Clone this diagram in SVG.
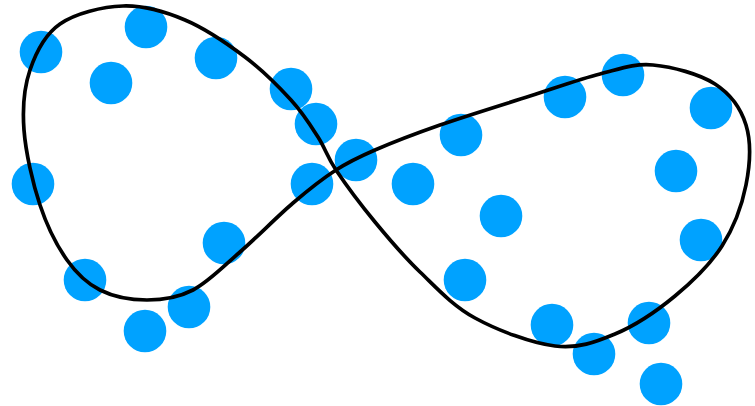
<svg xmlns="http://www.w3.org/2000/svg" width="755" height="406" viewBox="0 0 755 406">
<style>
.dot{fill:#00A2FF}
.curve{fill:none;stroke:#000;stroke-width:3.7;stroke-linejoin:round}
</style>
<rect width="755" height="406" fill="#fff"/>
<g id="dots">
<circle class="dot" cx="41" cy="52" r="21.3"/>
<circle class="dot" cx="146" cy="27" r="21.3"/>
<circle class="dot" cx="216" cy="58" r="21.3"/>
<circle class="dot" cx="111" cy="83" r="21.3"/>
<circle class="dot" cx="291" cy="89" r="21.3"/>
<circle class="dot" cx="316" cy="124" r="21.3"/>
<circle class="dot" cx="356" cy="160" r="21.3"/>
<circle class="dot" cx="312" cy="184" r="21.3"/>
<circle class="dot" cx="33" cy="184" r="21.3"/>
<circle class="dot" cx="85" cy="280" r="21.3"/>
<circle class="dot" cx="224" cy="243" r="21.3"/>
<circle class="dot" cx="189" cy="307" r="21.3"/>
<circle class="dot" cx="145" cy="331" r="21.3"/>
<circle class="dot" cx="461" cy="135" r="21.3"/>
<circle class="dot" cx="565" cy="97" r="21.3"/>
<circle class="dot" cx="623" cy="75" r="21.3"/>
<circle class="dot" cx="711" cy="108" r="21.3"/>
<circle class="dot" cx="676" cy="171" r="21.3"/>
<circle class="dot" cx="413" cy="184" r="21.3"/>
<circle class="dot" cx="501" cy="216" r="21.3"/>
<circle class="dot" cx="465" cy="280" r="21.3"/>
<circle class="dot" cx="701" cy="240" r="21.3"/>
<circle class="dot" cx="552" cy="325" r="21.3"/>
<circle class="dot" cx="594" cy="354" r="21.3"/>
<circle class="dot" cx="649" cy="323" r="21.3"/>
<circle class="dot" cx="661" cy="384" r="21.3"/>
</g>
<g id="curve">
<path class="curve" d="M336,170 C345.5,184.2 361,205 375,222 C389,239 403.3,256 420,272 C436.7,288 452.5,305.7 475,318 C497.5,330.3 531.7,343.3 555,346 C578.3,348.7 595,342.3 615,334 C635,325.7 657.2,310.7 675,296 C692.8,281.3 710.2,264.5 722,246 C733.8,227.5 742,205.2 746,185 C750,164.8 751.2,141.8 746,125 C740.8,108.2 730.5,94 715,84 C699.5,74 672.2,66.7 653,65 C633.8,63.3 620.5,68.8 600,74 C579.5,79.2 556.7,87.5 530,96 C503.3,104.5 465.8,116 440,125 C414.2,134 392.3,142.5 375,150 C357.7,157.5 349.7,161.2 336,170 C322.3,178.8 309,189.3 293,203 C277,216.7 256.7,237.5 240,252 C223.3,266.5 208.5,282 193,290 C177.5,298 162.5,300 147,300 C131.5,300 113.3,296.7 100,290 C86.7,283.3 77,274.2 67,260 C57,245.8 47.2,226.7 40,205 C32.8,183.3 25.7,152.5 24,130 C22.3,107.5 24,87.7 30,70 C36,52.3 44.5,34.7 60,24 C75.5,13.3 102.2,6.7 123,6 C143.8,5.3 164.7,11.5 185,20 C205.3,28.5 227.3,43.7 245,57 C262.7,70.3 278.8,86.7 291,100 C303.2,113.3 310.5,125.3 318,137 C325.5,148.7 326.5,155.8 336,170 Z"/>
</g>
</svg>
